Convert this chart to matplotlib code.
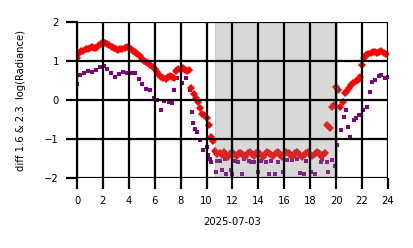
import matplotlib
matplotlib.use("Agg")
import matplotlib.pyplot as plt
import numpy as np

# red series: one value every 10 minutes, 00:00 .. 23:50
red_hours = np.arange(144) / 6.0
red_vals = [
    1.08, 1.20, 1.25, 1.27, 1.30, 1.32, 1.33, 1.36, 1.33, 1.33, 1.40, 1.45,
    1.48, 1.47, 1.43, 1.41, 1.37, 1.33, 1.30, 1.28, 1.32, 1.30, 1.33, 1.35,
    1.33, 1.30, 1.27, 1.22, 1.17, 1.12, 1.05, 1.00, 0.98, 0.94, 0.90, 0.86,
    0.80, 0.72, 0.65, 0.60, 0.56, 0.55, 0.60, 0.62, 0.58, 0.56, 0.75, 0.80,
    0.78, 0.82, 0.77, 0.75, 0.78, 0.30, 0.15, 0.05, -0.05, -0.20, -0.35, -0.38,
    -0.45, -0.65, -0.95, -1.05, -1.30, -1.38, -1.36, -1.42, -1.34, -1.40, -1.45, -1.38,
    -1.33, -1.40, -1.44, -1.36, -1.35, -1.42, -1.46, -1.37, -1.34, -1.38, -1.43, -1.35,
    -1.33, -1.41, -1.45, -1.38, -1.34, -1.36, -1.42, -1.44, -1.37, -1.33, -1.40, -1.45,
    -1.39, -1.34, -1.36, -1.43, -1.44, -1.36, -1.33, -1.39, -1.45, -1.41, -1.35, -1.34,
    -1.42, -1.44, -1.38, -1.33, -1.37, -1.43, -1.40, -1.35, -0.64, -0.72, -0.17, -0.13,
    0.34, 0.26, -0.17, -0.04, 0.18, 0.24, 0.30, 0.38, 0.43, 0.48, 0.51, 0.60,
    0.90, 1.07, 1.15, 1.18, 1.20, 1.24, 1.23, 1.20, 1.22, 1.25, 1.21, 1.19,
]

# purple series: irregular samples
purple_hours = [
    0.0, 0.25, 0.55, 0.85, 1.15, 1.45, 1.75, 2.05, 2.35, 2.65, 2.95, 3.25,
    3.55, 3.85, 4.15, 4.45, 4.75, 5.0, 5.3, 5.6, 5.95, 6.2, 6.5, 6.7,
    7.1, 7.35, 7.45, 7.7, 8.1, 8.4, 8.7, 8.85, 8.96, 9.1, 9.3, 9.5,
    9.7, 10.0, 10.1, 10.3, 10.35, 10.7, 10.8, 11.0, 11.2, 11.4, 11.5, 11.9,
    12.0, 12.2, 12.45, 12.7, 12.9, 13.3, 13.45, 13.7, 14.0, 14.2, 14.6, 14.8,
    15.0, 15.3, 15.5, 15.9, 16.2, 16.6, 17.0, 17.2, 17.5, 17.7, 18.1, 18.4,
    18.8, 18.9, 19.3, 19.4, 19.7, 19.9, 20.1, 20.4, 20.6, 20.8, 20.9, 21.1,
    21.4, 21.55, 21.8, 22.1, 22.35, 22.6, 22.8, 23.0, 23.3, 23.5, 23.8, 24.0,
]
purple_vals = [
    0.42, 0.65, 0.70, 0.75, 0.72, 0.78, 0.85, 0.88, 0.80, 0.70, 0.60, 0.67,
    0.72, 0.70, 0.70, 0.70, 0.55, 0.41, 0.28, 0.25, 0.05, 0.00, -0.25, -0.02,
    -0.05, -0.08, 0.26, 0.56, 0.43, 0.56, 0.26, -0.30, -0.60, -0.73, -0.81, -1.03,
    -1.28, -1.20, -1.41, -1.50, -1.60, -1.84, -1.56, -1.55, -1.80, -1.50, -1.90, -1.80,
    -1.90, -1.55, -1.58, -1.90, -1.50, -1.55, -1.60, -1.58, -1.85, -1.55, -1.60, -1.90,
    -1.55, -1.90, -1.58, -1.85, -1.53, -1.53, -1.50, -1.87, -1.90, -1.55, -1.85, -1.90,
    -1.60, -1.50, -1.58, -1.85, -1.53, -1.70, -1.15, -0.77, -0.44, -0.26, -0.70, -0.94,
    -0.51, -0.47, -0.38, -0.26, -0.17, 0.21, 0.47, 0.51, 0.61, 0.64, 0.56, 0.60,
]

night_start, night_end = 10.65, 20.1

fig = plt.figure(figsize=(4.14, 2.48), dpi=100)
ax = fig.add_axes([0.186, 0.282, 0.751, 0.629])

ax.plot(purple_hours, purple_vals, 's', color='purple', ms=2.8, mew=0, zorder=2)
ax.plot(red_hours, red_vals, 'D', color='red', ms=3.8, mew=0, zorder=2.1)
ax.axvspan(night_start, night_end, color='gray', alpha=0.3, lw=0.8, zorder=2.2)

ax.set_xlim(0, 24)
ax.set_ylim(-2, 2)
ax.set_xticks(range(0, 25, 2))
ax.set_yticks([-2, -1, 0, 1, 2])
ax.set_axisbelow(False)
ax.grid(True, color='black', lw=1.6, zorder=2.5)
for s in ['top', 'right', 'bottom']:
    ax.spines[s].set_visible(False)
ax.spines['left'].set_linewidth(1.6)
ax.tick_params(width=1.6, length=8, pad=5, labelsize=7.2, colors='black')
ax.set_xlabel('2025-07-03', fontsize=7.2, labelpad=8)
ax.set_ylabel('diff 1.6 & 2.3  log(Radiance)', fontsize=7.2, labelpad=13)

fig.savefig('out.png', dpi=100)
